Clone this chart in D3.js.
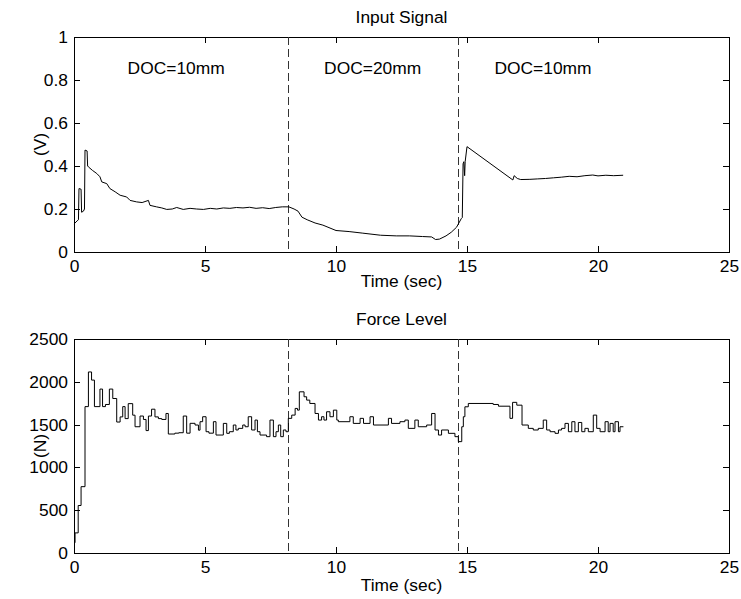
<!DOCTYPE html>
<html><head><meta charset="utf-8">
<script src="https://cdn.jsdelivr.net/npm/d3@7"></script>
<style>
body{margin:0;background:#fff}
text{font-family:"Liberation Sans",Arial,Helvetica,sans-serif;fill:#000}
</style>
</head><body>
<svg id="c" width="741" height="599"></svg>
<script>
// ---- data ----
const signalT=[0.00,0.04,0.12,0.17,0.19,0.27,0.29,0.36,0.40,0.42,0.50,0.52,0.55,0.70,0.87,0.99,1.06,1.25,1.37,1.57,1.76,2.01,2.14,2.39,2.60,2.84,2.90,3.15,3.35,3.54,3.75,3.92,4.17,4.43,4.68,4.94,5.20,5.45,5.70,5.95,6.20,6.45,6.70,6.95,7.20,7.45,7.70,7.95,8.20,8.40,8.55,8.70,8.90,9.20,9.50,10.00,10.50,11.00,11.70,12.30,12.80,13.30,13.65,13.80,13.95,14.20,14.40,14.60,14.78,14.82,14.85,14.88,14.91,14.93,15.00,16.75,16.80,16.92,17.05,17.40,17.70,18.00,18.30,18.60,18.90,19.20,19.50,19.80,20.00,20.30,20.60,20.96];
const signalV=[0.130,0.135,0.145,0.150,0.295,0.292,0.185,0.190,0.200,0.474,0.470,0.400,0.396,0.380,0.365,0.350,0.326,0.318,0.295,0.280,0.264,0.256,0.240,0.233,0.230,0.240,0.217,0.210,0.205,0.198,0.200,0.207,0.198,0.203,0.200,0.198,0.203,0.200,0.205,0.203,0.207,0.205,0.208,0.203,0.206,0.202,0.207,0.210,0.210,0.200,0.190,0.162,0.150,0.135,0.125,0.100,0.095,0.088,0.078,0.075,0.075,0.072,0.070,0.058,0.060,0.075,0.092,0.115,0.155,0.160,0.410,0.420,0.355,0.420,0.490,0.335,0.355,0.342,0.337,0.338,0.340,0.342,0.345,0.348,0.352,0.350,0.355,0.358,0.354,0.357,0.355,0.357];

const forceT=[0.00,0.04,0.16,0.27,0.42,0.55,0.67,0.78,0.99,1.09,1.20,1.35,1.48,1.63,1.76,1.86,1.95,2.07,2.24,2.33,2.52,2.65,2.75,2.84,2.96,3.09,3.22,3.35,3.51,3.60,3.85,4.00,4.17,4.30,4.43,4.62,4.75,4.81,4.91,5.04,5.15,5.32,5.42,5.70,5.83,5.93,6.08,6.18,6.27,6.44,6.53,6.65,6.78,6.91,7.00,7.10,7.35,7.48,7.61,7.71,7.80,7.89,7.99,8.09,8.18,8.31,8.44,8.53,8.60,8.78,8.88,9.00,9.20,9.33,9.45,9.54,9.64,9.77,9.90,10.03,10.09,10.53,10.66,10.92,11.05,11.30,11.43,12.00,12.12,12.44,12.63,12.76,13.01,13.14,13.46,13.65,13.78,13.91,14.03,14.29,14.54,14.67,14.80,14.86,14.92,15.05,16.00,16.20,16.64,16.74,16.90,17.10,17.34,17.53,17.72,17.91,18.04,18.17,18.36,18.49,18.61,18.74,18.87,19.00,19.12,19.25,19.38,19.50,19.63,19.82,19.95,20.08,20.27,20.39,20.46,20.58,20.65,20.78,20.84,20.97];
const forceV=[120,235,555,775,1710,2115,2020,1710,1915,1710,1735,1915,1805,1530,1590,1710,1570,1745,1610,1475,1600,1560,1430,1600,1680,1590,1570,1560,1630,1390,1400,1405,1600,1400,1515,1495,1435,1534,1592,1417,1400,1534,1378,1514,1398,1417,1495,1437,1456,1495,1475,1592,1437,1553,1417,1378,1359,1553,1359,1417,1495,1359,1437,1417,1573,1611,1689,1669,1883,1825,1786,1747,1630,1553,1592,1553,1650,1592,1669,1553,1534,1592,1514,1573,1514,1592,1495,1573,1514,1534,1553,1456,1553,1475,1495,1630,1437,1378,1437,1398,1359,1301,1475,1592,1708,1747,1735,1715,1573,1760,1727,1495,1456,1437,1456,1553,1437,1417,1398,1437,1456,1514,1417,1534,1417,1525,1417,1456,1417,1611,1456,1417,1534,1417,1514,1417,1534,1417,1475,1475];

const docLineT=[8.19,14.69];
const docLabels=["DOC=10mm","DOC=20mm","DOC=10mm"];
const docLabelT=[3.9,11.4,17.9];
const docLabelV=0.83;
const xTicks=[0,5,10,15,20,25];
const vTicks=[0,0.2,0.4,0.6,0.8,1];
const nTicks=[0,500,1000,1500,2000,2500];

// ---- drawing ----
const svg=d3.select("#c");
const FS=17.4;
const x=d3.scaleLinear().domain([0,25]).range([74,729]);

function panel(opt){
  const y=d3.scaleLinear().domain(opt.domain).range([opt.bottom,opt.top]);
  const g=svg.append("g");
  const tick=6;
  const fmt=opt.fmt;
  g.append("g").attr("transform",`translate(0,${opt.bottom})`)
    .call(d3.axisBottom(x).tickValues(xTicks).tickSizeInner(-tick).tickSizeOuter(0).tickPadding(8).tickFormat(d3.format("d")))
    .call(a=>{a.select(".domain").remove();a.selectAll("text").attr("font-size",FS).attr("font-family","Liberation Sans, Arial, sans-serif");});
  g.append("g").attr("transform",`translate(0,${opt.top})`)
    .call(d3.axisTop(x).tickValues(xTicks).tickSizeInner(-tick).tickSizeOuter(0).tickFormat(""))
    .call(a=>a.select(".domain").remove());
  g.append("g").attr("transform",`translate(74,0)`)
    .call(d3.axisLeft(y).tickValues(opt.ticks).tickSizeInner(-tick).tickSizeOuter(0).tickPadding(6).tickFormat(fmt))
    .call(a=>{a.select(".domain").remove();a.selectAll("text").attr("font-size",FS).attr("font-family","Liberation Sans, Arial, sans-serif");});
  g.append("g").attr("transform",`translate(729,0)`)
    .call(d3.axisRight(y).tickValues(opt.ticks).tickSizeInner(-tick).tickSizeOuter(0).tickFormat(""))
    .call(a=>a.select(".domain").remove());
  g.selectAll(".tick line").attr("stroke","#000").attr("shape-rendering","crispEdges");
  g.append("rect").attr("x",x(0)).attr("y",opt.top).attr("width",x(25)-x(0)).attr("height",opt.bottom-opt.top)
    .attr("fill","none").attr("stroke","#000").attr("stroke-width",1).attr("shape-rendering","crispEdges");
  g.selectAll(".doc").data(docLineT).enter().append("line")
    .attr("x1",d=>x(d)).attr("x2",d=>x(d)).attr("y1",opt.top).attr("y2",opt.bottom)
    .attr("stroke","#333").attr("stroke-width",1).attr("stroke-dasharray","8,4").attr("shape-rendering","crispEdges");
  const pts=opt.t.map((t,i)=>[t,opt.v[i]]);
  g.append("path").datum(pts)
    .attr("d",d3.line().x(d=>x(d[0])).y(d=>y(d[1])).curve(opt.curve))
    .attr("fill","none").attr("stroke","#000").attr("stroke-width",1);
  g.append("text").attr("x",(x(0)+x(25))/2).attr("y",opt.top-14).attr("text-anchor","middle").attr("font-size",FS).text(opt.title);
  g.append("text").attr("x",(x(0)+x(25))/2).attr("y",opt.bottom+opt.xlabOff).attr("text-anchor","middle").attr("font-size",FS).text("Time (sec)");
  g.append("text").attr("transform",`translate(46,${(opt.top+opt.bottom)/2}) rotate(-90)`).attr("text-anchor","middle").attr("font-size",FS).text(opt.ylabel);
  return {g,y};
}

const p1=panel({top:37,bottom:252,domain:[0,1],ticks:vTicks,fmt:d=>d===0||d===1?String(d):d3.format(".1f")(d),title:"Input Signal",ylabel:"(V)",t:signalT,v:signalV,curve:d3.curveLinear,xlabOff:35});
p1.g.selectAll(".lab").data(docLabels).enter().append("text")
  .attr("x",(d,i)=>x(docLabelT[i])).attr("y",p1.y(docLabelV)).attr("text-anchor","middle").attr("font-size",FS).text(d=>d);

panel({top:339,bottom:553,domain:[0,2500],ticks:nTicks,fmt:d3.format("d"),title:"Force Level",ylabel:"(N)",t:forceT,v:forceV,curve:d3.curveStepAfter,xlabOff:38});
</script>
</body></html>
